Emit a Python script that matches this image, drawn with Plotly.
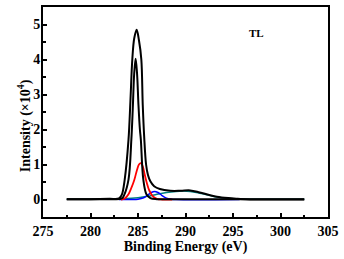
import plotly.graph_objects as go

# ---- data ----
total_x = [277.5, 280.0, 282.0, 283.0, 283.3, 283.6, 284.0, 284.2, 284.4, 284.6, 284.86, 285.1, 285.35, 285.5,
           285.65, 285.85, 286.05, 286.3, 286.7, 287.3, 288.4, 289.5, 290.5, 291.5, 292.5, 293.3, 294.5,
           295.5, 296.8, 299.0, 302.5]
total_y = [0.01, 0.01, 0.02, 0.03, 0.14, 0.57, 1.71, 2.8, 4.0, 4.6, 4.85, 4.55, 4.0, 2.7,
           1.8, 1.0, 0.7, 0.52, 0.38, 0.30, 0.25, 0.25, 0.26, 0.20, 0.13, 0.08, 0.04,
           0.02, 0.0, 0.0, 0.0]

cc_x = [277.5, 282.0, 283.3, 283.56, 284.0, 284.3, 284.45, 284.6, 284.75, 284.9, 285.05, 285.2, 285.3,
        285.56, 285.9, 286.3, 287.0, 290.0, 302.5]
cc_y = [0.01, 0.01, 0.03, 0.14, 0.57, 1.71, 2.6, 3.6, 4.02, 3.6, 2.7, 2.0, 1.71,
        0.57, 0.14, 0.04, 0.01, 0.01, 0.01]

red_x = [283.2, 283.6, 284.0, 284.3, 284.6, 284.9, 285.1, 285.3, 285.5, 285.7, 285.9, 286.2, 286.6,
         287.0, 287.5, 288.6]
red_y = [0.0, 0.03, 0.15, 0.33, 0.55, 0.85, 1.0, 1.04, 0.95, 0.72, 0.5, 0.25, 0.08,
         0.02, 0.0, 0.0]

blue_x = [283.0, 285.0, 285.6, 286.0, 286.4, 286.75, 287.1, 287.5, 288.0, 288.5, 289.0, 295.7]
blue_y = [0.0, 0.01, 0.05, 0.12, 0.20, 0.23, 0.20, 0.12, 0.04, 0.01, 0.0, 0.0]

teal_x = [277.5, 282.0, 283.5, 285.0, 286.0, 287.0, 288.0, 289.0, 289.8, 290.5, 291.5, 292.5, 293.3,
          294.5, 296.0, 302.5]
teal_y = [0.01, 0.01, 0.02, 0.05, 0.09, 0.15, 0.20, 0.23, 0.24, 0.23, 0.18, 0.12, 0.07,
          0.03, 0.01, 0.01]

x_ticks = [275, 280, 285, 290, 295, 300, 305]
y_ticks = [0, 1, 2, 3, 4, 5]

FONT = "Liberation Serif, Times New Roman, serif"

fig = go.Figure()
fig.add_trace(go.Scatter(x=teal_x, y=teal_y, mode="lines", line=dict(color="#008080", width=1.5, shape="spline")))
fig.add_trace(go.Scatter(x=blue_x, y=blue_y, mode="lines", line=dict(color="#0000ff", width=1.5, shape="spline")))
fig.add_trace(go.Scatter(x=red_x, y=red_y, mode="lines", line=dict(color="#ff0000", width=1.8, shape="spline")))
fig.add_trace(go.Scatter(x=cc_x, y=cc_y, mode="lines", line=dict(color="#000000", width=2, shape="spline")))
fig.add_trace(go.Scatter(x=total_x, y=total_y, mode="lines", line=dict(color="#000000", width=2, shape="spline")))

fig.add_annotation(x=297.5, y=4.76, xref="x", yref="y", text="<b>TL</b>", showarrow=False,
                   font=dict(family=FONT, size=11, color="black"))
fig.add_annotation(x=-0.105, y=0.435, xref="paper", yref="paper", textangle=-90,
                   text="<b>Intensity (×10<sup>4</sup>)</b>", showarrow=False,
                   font=dict(family=FONT, size=14, color="black"))

fig.update_layout(
    width=344, height=259,
    margin=dict(l=43, r=16, t=7, b=42),
    paper_bgcolor="white", plot_bgcolor="white",
    showlegend=False,
    font=dict(family=FONT, color="black"),
)
fig.update_xaxes(
    automargin=False,
    range=[275, 305], tickvals=x_ticks, ticktext=["<b>%d</b>" % v for v in x_ticks],
    ticks="inside", ticklen=4, tickwidth=2, tickcolor="black",
    minor=dict(dtick=2.5, tick0=275, ticks="inside", ticklen=2.5, tickwidth=2, tickcolor="black"),
    showline=True, linewidth=2, linecolor="black", mirror=True, showgrid=False, zeroline=False,
    tickfont=dict(family=FONT, size=14),
    title=dict(text="<b>Binding Energy (eV)</b>", font=dict(family=FONT, size=14), standoff=0),
)
fig.update_yaxes(
    automargin=False,
    range=[-0.5, 5.5], tickvals=y_ticks, ticktext=["<b>%d</b>" % v for v in y_ticks],
    ticks="inside", ticklen=4, tickwidth=2, tickcolor="black",
    minor=dict(dtick=0.5, tick0=0, ticks="inside", ticklen=2.5, tickwidth=2, tickcolor="black"),
    showline=True, linewidth=2, linecolor="black", mirror=True, showgrid=False, zeroline=False,
    tickfont=dict(family=FONT, size=14), ticklabelstandoff=-2,
)

fig.write_html("out.html", config={"displayModeBar": False},
               post_script="document.body.style.margin='0';document.body.style.overflow='hidden';")
